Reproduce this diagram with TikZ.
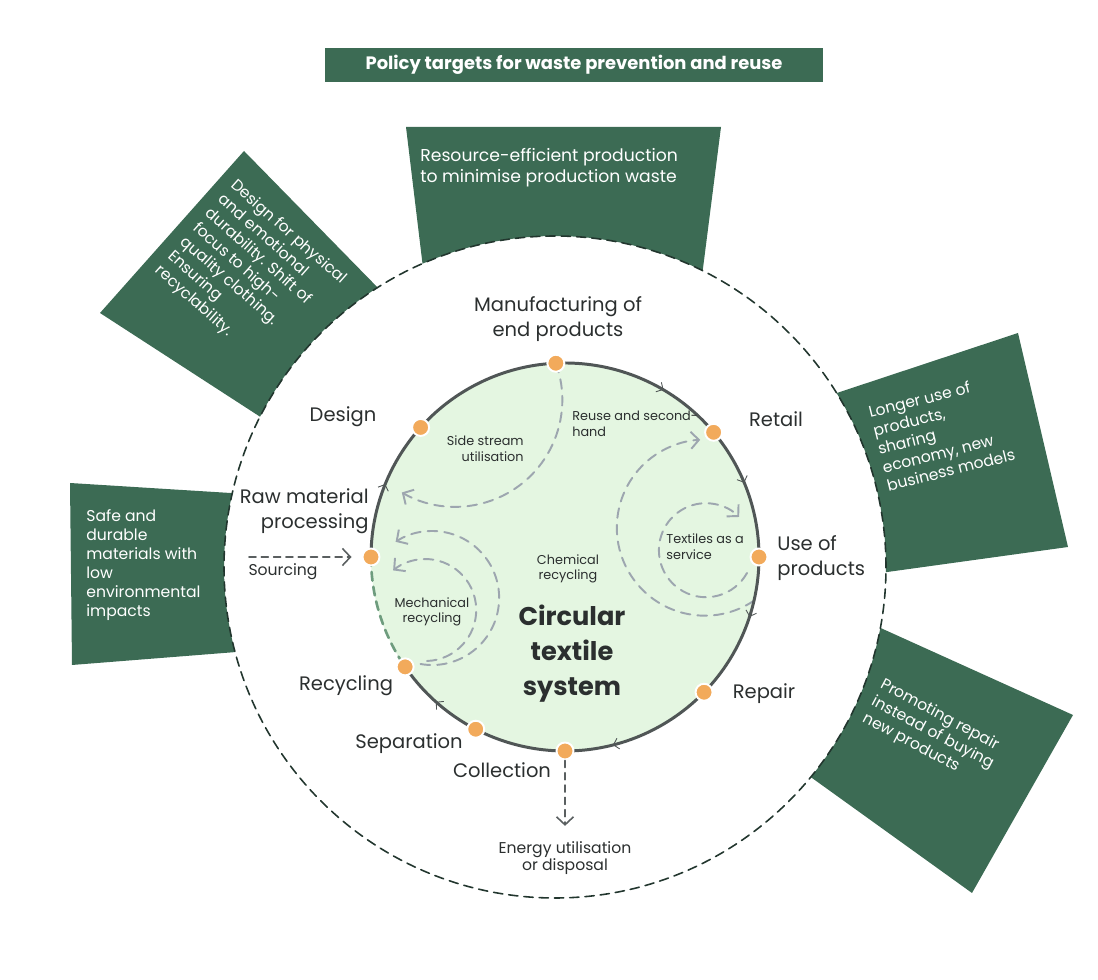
\documentclass[tikz,border=0pt]{standalone}
\usepackage{fontspec}
\setmainfont{Poppins}
\usepackage{tikz}
\usetikzlibrary{arrows.meta}
\usepackage{xcolor}
\definecolor{boxgreen}{HTML}{3C6B54}
\definecolor{circfill}{HTML}{E4F6E1}
\definecolor{circline}{HTML}{505656}
\definecolor{dotorange}{HTML}{F2AA5B}
\definecolor{flowgray}{HTML}{9DA6AF}
\definecolor{dashgreen}{HTML}{6E9C7E}
\definecolor{outerline}{HTML}{22362E}
\definecolor{textdark}{HTML}{2B2F2F}
\definecolor{leadgray}{HTML}{5A5F60}

\begin{document}
\begin{tikzpicture}[line cap=round,
  titlebox/.style={fill=boxgreen,text=white,font=\bfseries\fontsize{10.2}{11}\selectfont,minimum width=9.96cm,minimum height=0.68cm,inner sep=0pt},
  boxtext/.style={text=white,align=left,inner sep=0pt,anchor=north west,font=\fontsize{8.9}{10.8}\selectfont},
  stagetext/.style={text=textdark,inner sep=0pt,font=\fontsize{11.1}{14.2}\selectfont},
  minortext/.style={text=textdark,inner sep=0pt,font=\fontsize{8.9}{10}\selectfont},
  innertext/.style={text=textdark,inner sep=0pt,font=\fontsize{7.3}{8.9}\selectfont},
  stagedot/.style={circle,fill=dotorange,draw=white,line width=1.1pt,minimum size=0.34cm,inner sep=0pt},
  loopflow/.style={draw=flowgray,line width=1.1pt,dash pattern=on 5.5pt off 4pt,-{Straight Barb[length=1.6mm,width=3.4mm,line width=1.1pt]}},
  leadarrow/.style={draw=leadgray,line width=0.9pt,dash pattern=on 4pt off 3pt,-{Straight Barb[length=1.6mm,width=3.4mm,line width=0.9pt]}},
  dirmark/.style={draw=circline,line width=0.5pt,-{Straight Barb[length=1mm,width=2.2mm]}},
  outerdash/.style={draw=outerline,line width=0.9pt,dash pattern=on 5.3pt off 3.4pt}]
\useasboundingbox (0,0) rectangle (21.96,19.6);
\coordinate (O) at (11.10,8.26);
\coordinate (C) at (11.30,8.46);

\node[titlebox] (title) at (11.48,18.30) {Policy targets for waste prevention and reuse};

\fill[boxgreen] (8.12,17.06) -- (14.42,17.06) -- ([shift={(O)}]63.5:6.62) arc[start angle=63.5,end angle=113.6,radius=6.62] -- cycle;
\fill[boxgreen] (4.88,16.58) -- ([shift={(O)}]122.4:6.62) arc[start angle=122.4,end angle=153,radius=6.62] -- (2.00,13.34) -- cycle;
\fill[boxgreen] (1.40,9.94) -- ([shift={(O)}]167.1:6.62) arc[start angle=167.1,end angle=194.9,radius=6.62] -- (1.44,6.30) -- cycle;
\fill[boxgreen] ([shift={(O)}]31.7:6.62) -- (20.36,12.94) -- (21.36,8.66) -- ([shift={(O)}]-0.9:6.62) arc[start angle=-0.9,end angle=31.7,radius=6.62] -- cycle;
\fill[boxgreen] ([shift={(O)}]-10.6:6.62) -- (21.46,5.30) -- (19.44,1.74) -- ([shift={(O)}]-39.4:6.62) arc[start angle=-39.4,end angle=-10.6,radius=6.62] -- cycle;
\draw[outerdash] (O) circle[radius=6.62];

\node[boxtext,font=\fontsize{9.8}{12}\selectfont] (prodtxt) at (8.40,16.64) {Resource-efficient production\\to minimise production waste};
\node[boxtext,rotate=-41.5] (designtxt) at (4.76,16.06) {Design for physical\\and emotional\\durability. Shift of\\focus to high-\\quality clothing.\\Ensuring\\recyclability.};
\node[boxtext] (materialtxt) at (1.72,9.42) {Safe and\\durable\\materials with\\low\\environmental\\impacts};
\node[boxtext,rotate=14] (usetxt) at (17.34,11.48) {Longer use of\\products,\\sharing\\economy, new\\business models};
\node[boxtext,rotate=-28] (repairtxt) at (17.70,6.06) {Promoting repair\\instead of buying\\new products};

\fill[circfill] (C) circle[radius=3.88];
\foreach \a/\n in {92.7/manu,40/retail,0/use,-44.2/repair,-90/coll,242.6/sep,214.5/recyc,180/raw,138.1/design}
  \coordinate (\n-pt) at ([shift={(C)}]\a:3.88);
\draw[loopflow] (manu-pt) arc[start angle=20,end angle=-120,radius=2.14];
\draw[loopflow] ([shift={(C)}]-13:3.88) arc[start angle=-56,end angle=-267,radius=1.76];
\draw[loopflow] (14.94,8.14) arc[start angle=-29,end angle=-315,radius=0.94];
\draw[loopflow] (8.41,6.32) arc[start angle=-100,end angle=123,radius=1.34];
\draw[loopflow] (8.54,6.38) arc[start angle=-88,end angle=129,radius=1.02];
\draw[circline,line width=1.7pt] ([shift={(C)}]214.5:3.88) arc[start angle=214.5,end angle=540,radius=3.88];
\draw[dashgreen,line width=1.5pt,dash pattern=on 5pt off 3.5pt] ([shift={(C)}]180:3.88) arc[start angle=180,end angle=214.5,radius=3.88];
\foreach \a in {59.5,22.5,-18,-75.7,228.3,157.9}
  \draw[dirmark] ([shift={(C)}]\a+3:3.88) arc[start angle=\a+3,end angle=\a,radius=3.88];
\foreach \n in {manu,retail,use,repair,coll,sep,recyc,raw,design}
  \node[stagedot] (\n) at (\n-pt) {};

\node[stagetext,align=center] (manulbl) at (11.16,13.22) {Manufacturing of\\end products};
\node[stagetext] (designlbl) at (6.86,11.26) {Design};
\node[stagetext] (retaillbl) at (15.52,11.22) {Retail};
\node[stagetext,align=right,anchor=east] (rawlbl) at (7.38,9.38) {Raw material\\processing};
\node[minortext] (srclbl) at (5.66,8.16) {Sourcing};
\node[stagetext,align=left,anchor=west] (uselbl) at (15.54,8.44) {Use of\\products};
\node[stagetext] (repairlbl) at (15.28,5.72) {Repair};
\node[stagetext] (recyclbl) at (6.92,5.88) {Recycling};
\node[stagetext] (seplbl) at (8.18,4.72) {Separation};
\node[stagetext] (colllbl) at (10.04,4.20) {Collection};
\node[minortext,align=center] (energy) at (11.30,2.44) {Energy utilisation\\or disposal};

\node[innertext,align=right,anchor=east] (sidelbl) at (10.48,10.62) {Side stream\\utilisation};
\node[innertext,align=left,anchor=west] (reuselbl) at (11.44,11.12) {Reuse and second-\\hand};
\node[innertext,align=left,anchor=west] (servicelbl) at (13.32,8.66) {Textiles as a\\service};
\node[innertext,align=center] (chemlbl) at (11.36,8.22) {Chemical\\recycling};
\node[innertext,align=center] (mechlbl) at (8.64,7.36) {Mechanical\\recycling};
\node[text=textdark,inner sep=0pt,font=\bfseries\fontsize{14.6}{19.9}\selectfont,align=center] (systemlbl) at (11.44,6.52) {Circular\\textile\\system};

\coordinate (srcstart) at (4.98,8.46);
\draw[leadarrow,shorten >=0.2cm] (srcstart) -- (raw);
\draw[leadarrow,shorten >=0.3cm] (coll) -- (energy.north);
\end{tikzpicture}
\end{document}
